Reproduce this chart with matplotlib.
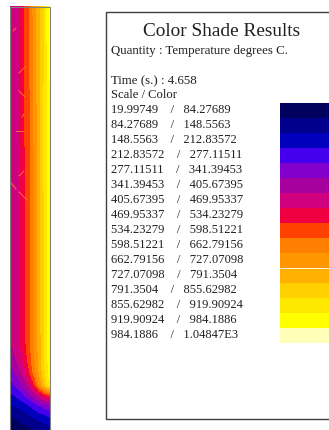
import numpy as np
import matplotlib
matplotlib.use('Agg')
import matplotlib.pyplot as plt
from matplotlib.colors import ListedColormap, BoundaryNorm
from matplotlib.patches import Rectangle

TITLE = 'Color Shade Results'
QUANTITY = 'Quantity : Temperature degrees C.'
TIME_LABEL = 'Time (s.) : 4.658'
SCALE_LABEL = 'Scale / Color'

# limites de cada banda
LEVELS = [19.99749, 84.27689, 148.5563, 212.83572, 277.11511, 341.39453,
          405.67395, 469.95337, 534.23279, 598.51221, 662.79156, 727.07098,
          791.3504, 855.62982, 919.90924, 984.1886, 1048.47]
LEVEL_TEXT = ['19.99749', '84.27689', '148.5563', '212.83572', '277.11511',
              '341.39453', '405.67395', '469.95337', '534.23279', '598.51221',
              '662.79156', '727.07098', '791.3504', '855.62982', '919.90924',
              '984.1886', '1.04847E3']
COLORS = ['#00005f', '#00008c', '#0000bd', '#4400ee', '#8300cc', '#a6009f',
          '#d0007f', '#f00040', '#ff4200', '#ff8000', '#ff9500', '#ffb000',
          '#ffd000', '#ffe800', '#ffff00', '#ffffb8']

# campo de temperatura (filas = profundidad, columnas = ancho)
FIELD_X = [10, 18, 25, 30, 35, 40, 45, 50]
FIELD_Y = [6, 150, 300, 340, 360, 373, 385, 395, 405, 415, 430]
FIELD_T = [[415, 455, 545, 610, 700, 791, 870, 1010],
           [410, 458, 534, 590, 680, 785, 875, 960],
           [408, 458, 534, 590, 675, 780, 870, 960],
           [400, 455, 525, 590, 670, 770, 870, 960],
           [345, 420, 495, 575, 665, 765, 865, 960],
           [300, 365, 445, 534, 640, 745, 850, 950],
           [250, 300, 370, 440, 540, 680, 810, 920],
           [190, 235, 280, 330, 390, 450, 510, 560],
           [140, 165, 190, 220, 250, 285, 315, 345],
           [85, 105, 125, 150, 170, 190, 210, 230],
           [40, 50, 60, 70, 80, 90, 100, 120]]

# rayitas claras del campo
STREAKS_X = [[13, 16], [19, 25], [19, 25], [22, 24], [16, 23], [19, 24], [11, 16], [19, 27]]
STREAKS_Y = [[31, 28], [73, 67], [91, 97], [117, 114], [131, 131], [176, 171], [183, 189], [192, 200]]

fig = plt.figure(figsize=(3.29, 4.30), dpi=100)
ax = fig.add_axes([0, 0, 1, 1])
ax.set_xlim(0, 329)
ax.set_ylim(430, 0)
ax.axis('off')
plt.rcParams['font.family'] = ['Liberation Serif', 'DejaVu Serif']

# columna de temperatura
cmap = ListedColormap(COLORS)
norm = BoundaryNorm(LEVELS, cmap.N)
ax.contourf(FIELD_X, FIELD_Y, np.array(FIELD_T), levels=LEVELS, cmap=cmap, norm=norm)
for sx, sy in zip(STREAKS_X, STREAKS_Y):
    ax.plot(sx, sy, color='#ff8a30', lw=0.7, alpha=0.8)
ax.plot([10, 10, 50, 50], [430, 6.5, 6.5, 430], color='#808080', lw=0.8)

# caja de resultados
ax.add_patch(Rectangle((106, 12), 240, 407, fill=False, edgecolor='#404040', lw=1))
ax.text(221.5, 31, TITLE, fontsize=13.9, ha='center', va='center', color='#202020')
ax.text(111, 51, QUANTITY, fontsize=9.3, va='center', color='#202020')
ax.text(111, 81, TIME_LABEL, fontsize=9.3, va='center', color='#202020')
ax.text(111, 95, SCALE_LABEL, fontsize=9.1, va='center', color='#202020')

# filas de la escala
rows = np.arange(len(COLORS))
ax.barh(110 + rows * 15, 60, left=280, height=15, color=COLORS)
for i in rows:
    ax.text(111, 110 + i * 15, f'{LEVEL_TEXT[i]}    /   {LEVEL_TEXT[i + 1]}',
            fontsize=9, va='center', color='#202020')
ax.plot([280, 329], [267.5, 267.5], color='white', lw=0.6)

fig.savefig('out.png', dpi=100)
